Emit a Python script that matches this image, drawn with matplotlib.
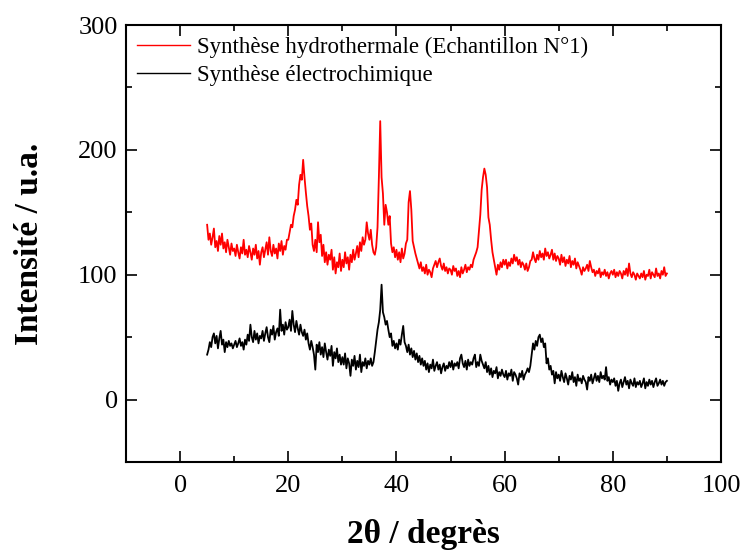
import matplotlib
matplotlib.use('Agg')
import matplotlib.pyplot as plt
import numpy as np
from matplotlib.ticker import MultipleLocator

# 2theta grid of the scan, 5 to 90 degrees every 0.25
two_theta = np.arange(5.0, 90.0 + 0.001, 0.25)

# Synthese hydrothermale (Echantillon N°1), one row per 5 degrees
hydro = [
    140, 128, 133, 124, 130, 137, 122, 127, 119, 131, 124, 133, 121, 126, 118, 128, 122, 116, 125, 119,
    121, 115, 124, 118, 113, 122, 117, 128, 116, 120, 114, 123, 118, 112, 121, 116, 124, 113, 119, 108,
    118, 122, 114, 120, 126, 116, 130, 119, 115, 124, 117, 121, 113, 125, 119, 127, 116, 123, 120, 128,
    128, 134, 140, 138, 147, 152, 160, 156, 172, 180, 176, 192, 178, 166, 155, 147, 136, 141, 124, 119,
    128, 118, 142, 126, 132, 115, 124, 110, 118, 108, 116, 112, 120, 104, 114, 101, 110, 106, 117, 103,
    112, 106, 118, 109, 114, 104, 116, 110, 120, 112, 117, 123, 114, 126, 119, 130, 124, 128, 142, 133,
    128, 136, 124, 118, 116, 122, 138, 178, 223, 178, 165, 140, 156, 150, 140, 147, 125, 118, 122, 114,
    120, 112, 118, 110, 121, 113, 117, 125, 128, 158, 167, 152, 127, 122, 117, 113, 109, 105, 110, 103,
    106, 101, 108, 100, 104, 102, 98, 105, 108, 111, 106, 110, 113, 107, 104, 109, 103, 106, 101, 105,
    104, 100, 107, 103, 105, 99, 103, 98, 106, 101, 104, 108, 102, 106, 104, 108, 106, 112, 115, 118,
    122, 135, 148, 168, 178, 185, 180, 170, 146, 140, 128, 118, 112, 106, 100, 108, 104, 110, 106, 112,
    108, 112, 105, 110, 107, 113, 109, 116, 111, 114, 108, 112, 106, 110, 108, 104, 109, 103, 106, 111,
    112, 118, 113, 110, 116, 112, 119, 114, 117, 112, 121, 115, 118, 113, 116, 120, 112, 117, 111, 115,
    113, 108, 116, 110, 114, 107, 112, 109, 115, 106, 111, 108, 113, 105, 110, 107, 104, 100, 106, 103,
    105, 108, 103, 111, 106, 102, 104, 99, 103, 101, 105, 98, 102, 100, 104, 99, 102, 97, 101, 103,
    100, 104, 98, 102, 99, 103, 101, 97, 103, 100, 105, 99, 109, 101, 98, 102, 100, 96, 101, 99,
    97, 101, 98, 103, 96, 100, 99, 104, 97, 102, 100, 98, 105, 99, 101, 97, 103, 100, 106, 99,
    101,
]

# Synthese electrochimique
electro = [
    36, 40, 46, 42, 50, 53, 45, 51, 41, 49, 55, 44, 48, 38, 46, 42, 47, 43, 45, 41,
    44, 47, 42, 45, 49, 43, 46, 40, 48, 44, 52, 47, 60, 50, 46, 55, 48, 53, 45, 51,
    49, 55, 47, 53, 58, 50, 46, 56, 52, 59, 48, 54, 57, 51, 72, 55, 60, 52, 62, 56,
    58, 64, 55, 71, 60, 54, 63, 57, 52, 60, 54, 51, 56, 48, 53, 45, 40, 47, 42, 36,
    24, 44, 38, 46, 36, 42, 34, 45, 38, 32, 40, 35, 43, 27, 38, 33, 41, 30, 36, 28,
    34, 28, 37, 25, 33, 29, 19, 32, 27, 35, 24, 31, 26, 36, 22, 30, 27, 33, 25, 31,
    28, 33, 27, 30, 38, 47, 56, 62, 72, 92, 70, 66, 60, 63, 56, 50, 53, 43, 47, 41,
    45, 40, 48, 44, 52, 59, 46, 43, 38, 44, 36, 41, 34, 39, 32, 37, 30, 35, 28, 33,
    27, 31, 24, 29, 22, 28, 25, 32, 23, 27, 30, 24, 28, 21, 26, 29, 23, 27, 25, 30,
    26, 31, 24, 29, 27, 30, 25, 33, 36, 29, 26, 31, 24, 32, 27, 30, 28, 33, 36, 26,
    30, 27, 36, 31, 28, 25, 30, 22, 27, 20, 25, 18, 23, 21, 26, 17, 22, 19, 24, 20,
    18, 23, 16, 21, 19, 24, 15, 22, 20, 17, 12, 21, 18, 23, 16, 20, 22, 25, 22, 27,
    36, 45, 40, 47, 43, 50, 52, 46, 49, 42, 45, 29, 33, 24, 27, 20, 23, 13, 22, 17,
    20, 15, 23, 18, 14, 21, 17, 12, 19, 16, 22, 14, 18, 11, 20, 15, 17, 13, 19, 16,
    14, 8, 18, 15, 20, 13, 17, 21, 15, 19, 14, 22, 17, 19, 16, 26, 15, 18, 12, 16,
    14, 17, 11, 15, 7, 13, 16, 10, 14, 18, 12, 15, 9, 16, 13, 11, 17, 10, 14, 12,
    15, 10, 13, 17, 9, 14, 11, 16, 12, 15, 10, 14, 17, 11, 13, 16, 12, 15, 11, 14,
    15,
]

labels = ['Synthèse hydrothermale (Echantillon N°1)', 'Synthèse électrochimique']

plt.rcParams['font.family'] = ['Liberation Serif', 'DejaVu Serif']

fig = plt.figure(figsize=(7.41, 5.52), dpi=100)
ax = fig.add_axes([126 / 741, 1 - 462 / 552, (721 - 126) / 741, (462 - 25) / 552])

ax.plot(two_theta, hydro, color='red', lw=1.3, label=labels[0])
ax.plot(two_theta, electro, color='black', lw=1.3, label=labels[1])

ax.set_xlim(-10, 100)
ax.set_ylim(-50, 300)
ax.xaxis.set_major_locator(MultipleLocator(20))
ax.xaxis.set_minor_locator(MultipleLocator(10))
ax.yaxis.set_major_locator(MultipleLocator(100))
ax.yaxis.set_minor_locator(MultipleLocator(50))

ax.tick_params(which='both', direction='in', top=True, right=True, width=1.2, labelsize=19)
ax.tick_params(which='major', length=8)
ax.tick_params(which='minor', length=4.5)
ax.tick_params(axis='x', pad=9)
ax.tick_params(axis='y', pad=6)
for s in ax.spines.values():
    s.set_linewidth(1.5)

ax.set_xlabel('2θ / degrès', fontsize=24, fontweight='bold', labelpad=16)
ax.set_ylabel('Intensité / u.a.', fontsize=24, fontweight='bold', labelpad=24)

leg = ax.legend(loc='upper left', frameon=False, fontsize=16.5, handlelength=2.3,
                handletextpad=0.3, labelspacing=0.33, borderaxespad=0.1,
                bbox_to_anchor=(0.0, 1.0))
for line in leg.get_lines():
    line.set_linewidth(1.0)

fig.savefig('out.png', dpi=100)
